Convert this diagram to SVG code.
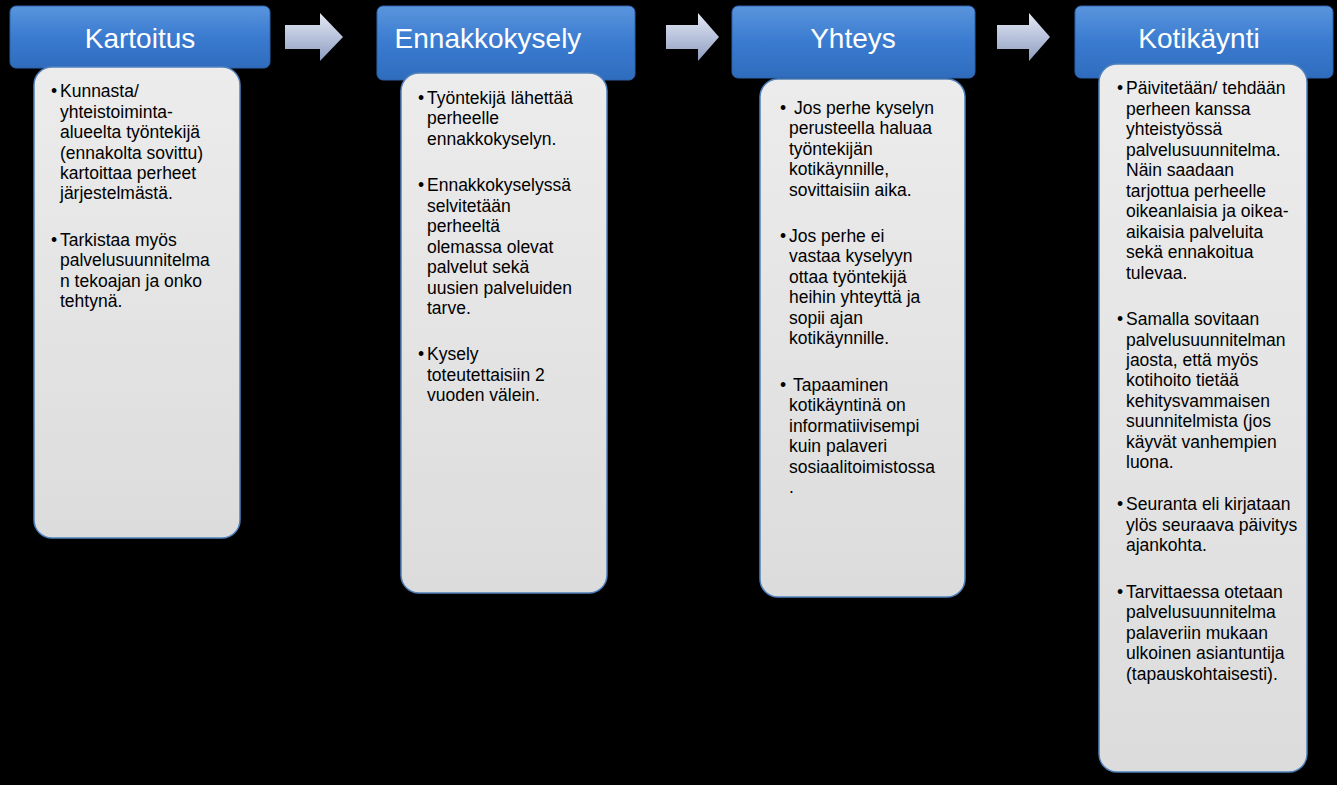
<svg xmlns="http://www.w3.org/2000/svg" width="1337" height="785" viewBox="0 0 1337 785">
<defs>
<linearGradient id="hg" x1="0" y1="0" x2="0" y2="1"><stop offset="0" stop-color="#5a95dd"/><stop offset="0.5" stop-color="#3a7bd0"/><stop offset="1" stop-color="#2f6cbd"/></linearGradient>
<linearGradient id="cg" x1="0" y1="0" x2="0" y2="1"><stop offset="0" stop-color="#ececec"/><stop offset="1" stop-color="#dcdcdc"/></linearGradient>
<linearGradient id="ag" x1="0" y1="0" x2="0" y2="1"><stop offset="0" stop-color="#e4e8f2"/><stop offset="0.5" stop-color="#b9c3dc"/><stop offset="1" stop-color="#8f9cbf"/></linearGradient>
<style>
.h{fill:url(#hg);stroke:#2c62aa;stroke-width:1}
.c{fill:url(#cg);stroke:#4f81bd;stroke-width:1.5}
.ht{font-family:"Liberation Sans",Arial,sans-serif;font-size:28px;fill:#fff;text-anchor:middle}
.t{font-family:"Liberation Sans",Arial,sans-serif;font-size:17.5px;fill:#000}
.a{fill:url(#ag)}
</style>
</defs>
<rect width="1337" height="785" fill="#000"/>
<g id="connectors">
<path class="a" d="M285 25 H320 V13 L343 37 L320 61 V49 H285 Z"/>
<path class="a" d="M666 25 H698 V13 L719 37 L698 61 V49 H666 Z"/>
<path class="a" d="M997 25 H1029 V13 L1050 37 L1029 61 V49 H997 Z"/>
</g>
<g id="kartoitus">
<rect class="h" x="10" y="6" width="260" height="62" rx="6"/>
<text class="ht" x="140" y="48">Kartoitus</text>
<rect class="c" x="34" y="67" width="206" height="471" rx="18"/>
<text class="t"><tspan x="51" y="97">•</tspan><tspan x="60" y="97">Kunnasta/</tspan><tspan x="60" y="118">yhteistoiminta-</tspan><tspan x="60" y="138">alueelta työntekijä</tspan><tspan x="60" y="159">(ennakolta sovittu)</tspan><tspan x="60" y="179">kartoittaa perheet</tspan><tspan x="60" y="199">järjestelmästä.</tspan>
<tspan x="51" y="246">•</tspan><tspan x="60" y="246">Tarkistaa myös</tspan><tspan x="60" y="266">palvelusuunnitelma</tspan><tspan x="60" y="287">n tekoajan ja onko</tspan><tspan x="60" y="307">tehtynä.</tspan></text>
</g>
<g id="ennakkokysely">
<rect class="h" x="377" y="6" width="258" height="74" rx="6"/>
<text class="ht" x="488" y="48">Ennakkokysely</text>
<rect class="c" x="401" y="73" width="206" height="520" rx="18"/>
<text class="t"><tspan x="418" y="104">•</tspan><tspan x="427" y="104">Työntekijä lähettää</tspan><tspan x="427" y="124">perheelle</tspan><tspan x="427" y="145">ennakkokyselyn.</tspan>
<tspan x="418" y="191">•</tspan><tspan x="427" y="191">Ennakkokyselyssä</tspan><tspan x="427" y="212">selvitetään</tspan><tspan x="427" y="232">perheeltä</tspan><tspan x="427" y="253">olemassa olevat</tspan><tspan x="427" y="273">palvelut sekä</tspan><tspan x="427" y="294">uusien palveluiden</tspan><tspan x="427" y="314">tarve.</tspan>
<tspan x="418" y="360">•</tspan><tspan x="427" y="360">Kysely</tspan><tspan x="427" y="381">toteutettaisiin 2</tspan><tspan x="427" y="401">vuoden välein.</tspan></text>
</g>
<g id="yhteys">
<rect class="h" x="732" y="6" width="243" height="72" rx="6"/>
<text class="ht" x="853" y="48">Yhteys</text>
<rect class="c" x="760" y="79" width="205" height="518" rx="18"/>
<text class="t"><tspan x="780" y="114">•</tspan><tspan x="794" y="114">Jos perhe kyselyn</tspan><tspan x="789" y="134">perusteella haluaa</tspan><tspan x="789" y="155">työntekijän</tspan><tspan x="789" y="175">kotikäynnille,</tspan><tspan x="789" y="196">sovittaisiin aika.</tspan>
<tspan x="780" y="242">•</tspan><tspan x="789" y="242">Jos perhe ei</tspan><tspan x="789" y="262">vastaa kyselyyn</tspan><tspan x="789" y="283">ottaa työntekijä</tspan><tspan x="789" y="303">heihin yhteyttä ja</tspan><tspan x="789" y="324">sopii ajan</tspan><tspan x="789" y="344">kotikäynnille.</tspan>
<tspan x="780" y="391">•</tspan><tspan x="793" y="391">Tapaaminen</tspan><tspan x="789" y="411">kotikäyntinä on</tspan><tspan x="789" y="432">informatiivisempi</tspan><tspan x="789" y="452">kuin palaveri</tspan><tspan x="789" y="473">sosiaalitoimistossa</tspan><tspan x="789" y="493">.</tspan></text>
</g>
<g id="kotikaynti">
<rect class="h" x="1075" y="6" width="258" height="72" rx="6"/>
<text class="ht" x="1199" y="48">Kotikäynti</text>
<rect class="c" x="1099" y="64" width="208" height="708" rx="18"/>
<text class="t"><tspan x="1117" y="94">•</tspan><tspan x="1126" y="94">Päivitetään/ tehdään</tspan><tspan x="1126" y="115">perheen kanssa</tspan><tspan x="1126" y="135">yhteistyössä</tspan><tspan x="1126" y="156">palvelusuunnitelma.</tspan><tspan x="1126" y="176">Näin saadaan</tspan><tspan x="1126" y="197">tarjottua perheelle</tspan><tspan x="1126" y="217">oikeanlaisia ja oikea-</tspan><tspan x="1126" y="238">aikaisia palveluita</tspan><tspan x="1126" y="258">sekä ennakoitua</tspan><tspan x="1126" y="279">tulevaa.</tspan>
<tspan x="1117" y="325">•</tspan><tspan x="1126" y="325">Samalla sovitaan</tspan><tspan x="1126" y="346">palvelusuunnitelman</tspan><tspan x="1126" y="366">jaosta, että myös</tspan><tspan x="1126" y="386">kotihoito tietää</tspan><tspan x="1126" y="407">kehitysvammaisen</tspan><tspan x="1126" y="427">suunnitelmista (jos</tspan><tspan x="1126" y="448">käyvät vanhempien</tspan><tspan x="1126" y="468">luona.</tspan>
<tspan x="1117" y="510">•</tspan><tspan x="1126" y="510">Seuranta eli kirjataan</tspan><tspan x="1126" y="531">ylös seuraava päivitys</tspan><tspan x="1126" y="551">ajankohta.</tspan>
<tspan x="1117" y="598">•</tspan><tspan x="1126" y="598">Tarvittaessa otetaan</tspan><tspan x="1126" y="618">palvelusuunnitelma</tspan><tspan x="1126" y="639">palaveriin mukaan</tspan><tspan x="1126" y="659">ulkoinen asiantuntija</tspan><tspan x="1126" y="680">(tapauskohtaisesti).</tspan></text>
</g>
</svg>
